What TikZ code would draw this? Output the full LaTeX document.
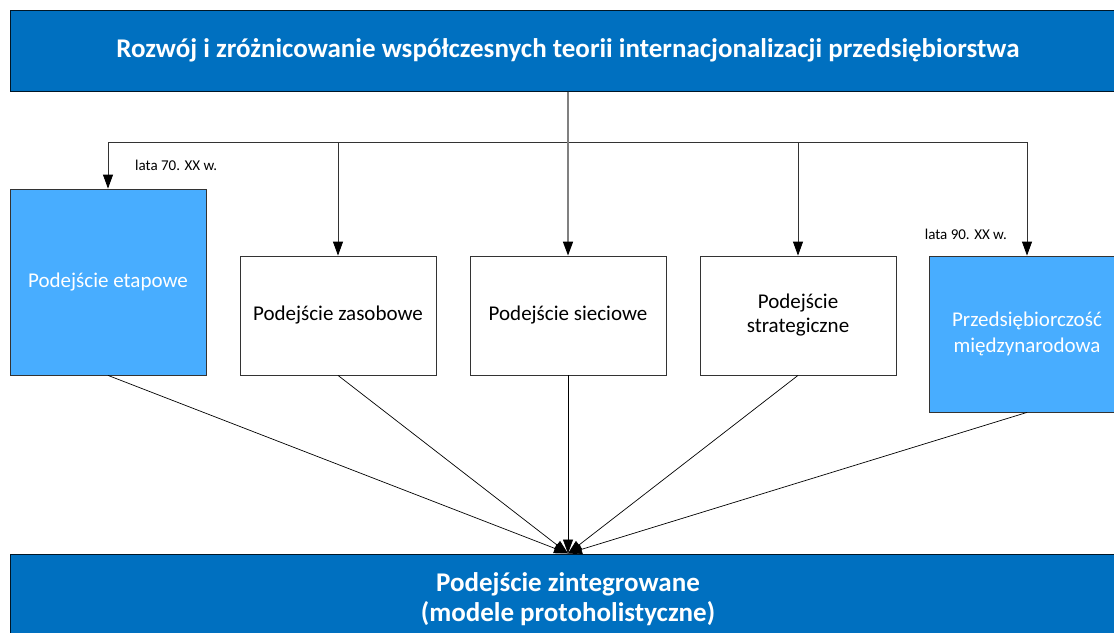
\documentclass[tikz,border=0pt]{standalone}
\usepackage{fontspec}
\setmainfont{Carlito}
\usetikzlibrary{arrows.meta}
\definecolor{darkblue}{RGB}{0,112,192}
\definecolor{lightblue}{RGB}{72,173,255}
\definecolor{trunk}{RGB}{128,128,128}
\begin{document}
\begin{tikzpicture}[x=1pt,y=-1pt,
  banner/.style={draw=black!80!darkblue, line width=1pt, fill=darkblue, text=white, font=\bfseries\fontsize{27}{30}\selectfont, align=center, inner sep=0pt},
  whitebox/.style={draw=black!80, line width=0.8pt, fill=white, minimum width=196pt, minimum height=119pt, align=center, font=\fontsize{21}{24}\selectfont, inner sep=0pt},
  bluebox/.style={draw=black!80, line width=0.8pt, fill=lightblue, text=white, minimum width=196pt, align=center, font=\fontsize{21}{26}\selectfont, inner sep=0pt},
  arr/.style={draw=black!80, line width=0.8pt, -{Triangle[length=14pt,width=10pt,color=black]}},
  conv/.style={draw=black, line width=0.7pt, -{Triangle[length=14pt,width=10pt]}},
  lbl/.style={font=\fontsize{15}{17}\selectfont, inner sep=0pt}
]
\useasboundingbox (0,0) rectangle (1114,632);
\begin{scope}
\clip (0,0) rectangle (1114,632);
\node[banner, minimum width=1116pt, minimum height=81pt] (head) at (568,50.5) {Rozwój i zróżnicowanie współczesnych teorii internacjonalizacji przedsiębiorstwa};
\node[banner, minimum width=1116pt, minimum height=90pt] (integ) at (568,599) {Podejście zintegrowane\\(modele protoholistyczne)};
\node[bluebox, minimum height=186pt] (etap) at (108,282) {Podejście etapowe};
\node[whitebox] (zas) at (338,315.5) {Podejście zasobowe};
\node[whitebox] (siec) at (568,315.5) {Podejście sieciowe};
\node[whitebox] (strat) at (798,315.5) {Podejście\\strategiczne};
\node[bluebox, minimum height=156pt] (przed) at (1027,334) {Przedsiębiorczość\\międzynarodowa};
\coordinate (j) at (568,142);
\draw[arr] (j) -| (etap.north);
\draw[arr] (j) -| (zas.north);
\draw[arr] (j) -| (strat.north);
\draw[arr] (j) -| (przed.north);
\draw[arr, draw=trunk, line width=1.5pt] (head.south) -- (siec.north);
\draw[conv] (etap.south) -- (integ.north);
\draw[conv] (zas.south) -- (integ.north);
\draw[conv] (siec.south) -- (integ.north);
\draw[conv] (strat.south) -- (integ.north);
\draw[conv] (przed.south) -- (integ.north);
\node[lbl, anchor=west] (l70) at (135,165) {lata 70. XX w.};
\node[lbl, anchor=east] (l90) at (1007,234) {lata 90. XX w.};
\end{scope}
\end{tikzpicture}
\end{document}
